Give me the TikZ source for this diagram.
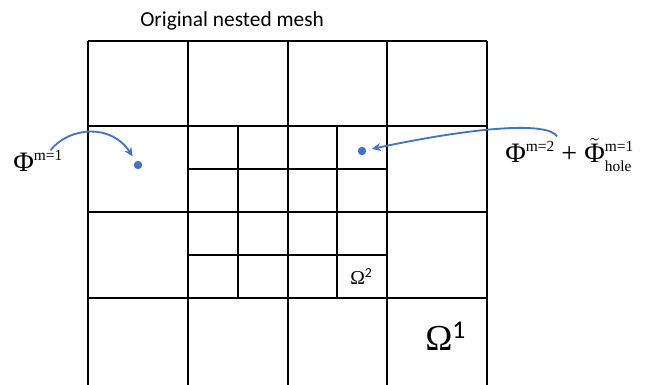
\documentclass[tikz,border=0pt]{standalone}
\usepackage{fontspec}
\setmainfont{Carlito}
\newfontfamily\phifont{Liberation Serif}
\usepackage{tikz}
\usetikzlibrary{positioning, arrows.meta}

\definecolor{linkblue}{HTML}{4472C4}
\newcommand{\symsize}{\phifont\fontsize{20}{24}\selectfont}
\newcommand{\supsize}{\fontsize{11}{13}\selectfont}

\begin{document}
\begin{tikzpicture}[
    x=0.025cm, y=-0.025cm,
    coarse/.style={
        line width=1.6pt,
        black
    },
    fine/.style={
        line width=0.9pt,
        black
    },
    label/.style={
        inner sep=0pt,
        anchor=base west
    },
    dot/.style={
        circle,
        fill=linkblue,
        inner sep=0pt,
        minimum size=6pt
    },
    link/.style={
        -{Stealth[length=2.2mm, width=2mm]},
        line width=1.3pt,
        linkblue,
        shorten >=4pt
    }
]
\useasboundingbox (0,0) rectangle (657,385);

% refined patch
\foreach \x in {238,337}
    \draw[fine] (\x,126) -- (\x,298);
\foreach \y in {169,255}
    \draw[fine] (188,\y) -- (387,\y);

% coarse mesh
\foreach \x in {88,188,288,387,487}
    \draw[coarse] (\x,41) -- (\x,385);
\foreach \y in {41,126,212,298}
    \draw[coarse] (88,\y) -- (487,\y);

\node[label, font=\fontsize{15.2}{18}\selectfont] (title) at (140,27) {Original nested mesh};

\node[dot] (dotone) at (138,165) {};
\node[dot] (dottwo) at (362,151) {};

\node[label] (phione) at (13,172) {\symsize Φ\raisebox{8pt}{\supsize m=1}};
\node[label] (phitwo) at (505,163)
    {\symsize Φ\raisebox{8pt}{\supsize m=2}\ +\ $\tilde{\hbox{Φ}}$\rlap{\raisebox{8pt}{\supsize m=1}}\raisebox{-6pt}{\supsize hole}};

\node[label, font=\fontsize{14}{17}\selectfont] (omegatwo) at (350,285) {{\phifont Ω}\textsuperscript{2}};
\node[label, font=\fontsize{26}{30}\selectfont] (omegaone) at (425,351) {{\phifont Ω}\textsuperscript{1}};

\draw[link] ([xshift=9pt]phione.north) .. controls (70,126) and (112,124) .. (dotone);
\draw[link] ([xshift=37pt,yshift=1pt]phitwo.north west) .. controls (548,122) and (480,126) .. (dottwo);

\end{tikzpicture}
\end{document}
